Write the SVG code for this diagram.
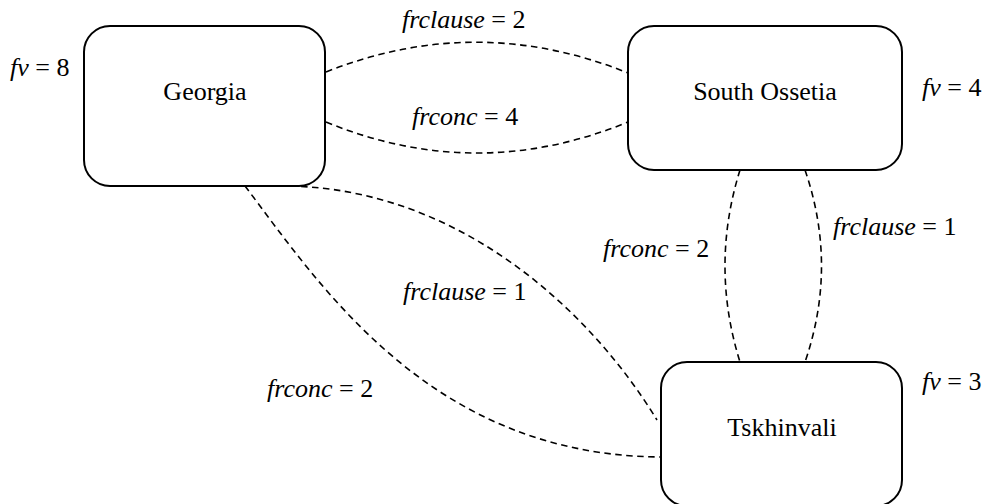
<svg xmlns="http://www.w3.org/2000/svg" width="989" height="504" viewBox="0 0 989 504">
<style>
.box{fill:#fff;stroke:#000;stroke-width:2}
.edge{fill:none;stroke:#000;stroke-width:1.6;stroke-dasharray:6.5 4.5}
.name{text-anchor:middle}
.it{font-style:italic}
</style>
<rect width="989" height="504" fill="#fff"/>
<g font-family="'Liberation Serif', 'DejaVu Serif', serif" font-size="26" fill="#000">
<g id="connectors">
<path class="edge" d="M326,72 Q477,12 628,73"/>
<path class="edge" d="M326,122 Q477,184 628,122"/>
<path class="edge" d="M740,170 Q710,266 740,362"/>
<path class="edge" d="M805,170 Q838,266 805,362"/>
<path class="edge" d="M290,186 C460,190 590,310 657,420"/>
<path class="edge" d="M245,186 C320,285 430,455 660,457"/>
<text x="402" y="28"><tspan class="it">frclause</tspan> = 2</text>
<text x="412" y="125"><tspan class="it">frconc</tspan> = 4</text>
<text x="603" y="257"><tspan class="it">frconc</tspan> = 2</text>
<text x="833" y="235"><tspan class="it">frclause</tspan> = 1</text>
<text x="403" y="300"><tspan class="it">frclause</tspan> = 1</text>
<text x="267" y="397"><tspan class="it">frconc</tspan> = 2</text>
</g>
<g id="georgia">
<rect class="box" x="84" y="26" width="241" height="160" rx="26" ry="26"/>
<text class="name" x="205" y="100">Georgia</text>
<text x="10" y="76"><tspan class="it">fv</tspan> = 8</text>
</g>
<g id="south-ossetia">
<rect class="box" x="628" y="26" width="274" height="144" rx="26" ry="26"/>
<text class="name" x="765" y="100">South Ossetia</text>
<text x="922" y="96"><tspan class="it">fv</tspan> = 4</text>
</g>
<g id="tskhinvali">
<rect class="box" x="661" y="362" width="241" height="144" rx="26" ry="26"/>
<text class="name" x="782" y="436">Tskhinvali</text>
<text x="922" y="390"><tspan class="it">fv</tspan> = 3</text>
</g>
</g>
</svg>
